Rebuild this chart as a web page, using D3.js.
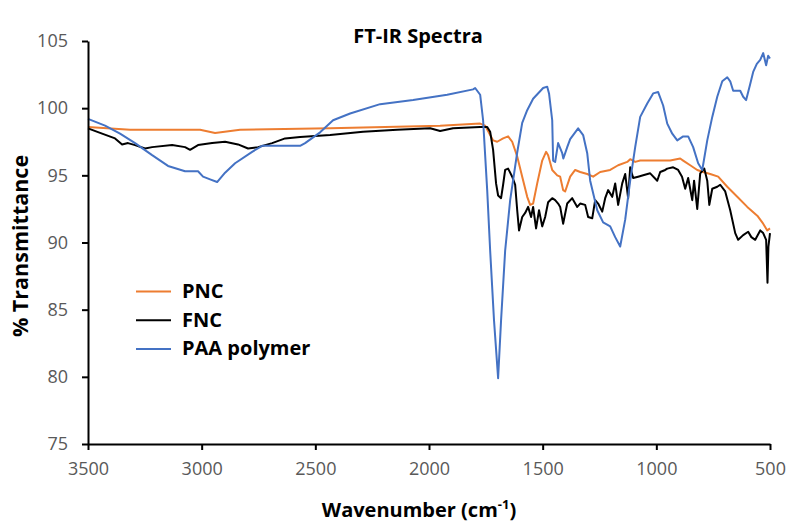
<!DOCTYPE html>
<html>
<head>
<meta charset="utf-8">
<script src="https://cdn.jsdelivr.net/npm/d3@7"></script>
<style>
  body { margin: 0; background: #fff; }
  svg { display: block; }
</style>
</head>
<body>
<svg id="chart" width="790" height="529"></svg>
<script>
// ---- data (wavenumber cm-1, % transmittance) ----
const seriesNames = ["PNC", "FNC", "PAA polymer"];
const seriesColors = ["#ED7D31", "#000000", "#4472C4"];
const xTicks = [3500, 3000, 2500, 2000, 1500, 1000, 500];
const yTicks = [75, 80, 85, 90, 95, 100, 105];

const pncWave = [3500,3315,3007,2941,2831,2435,1951,1775,1753,1731,1718,1700,1674,1652,1634,1612,1590,1568,1555,1542,1524,1502,1485,1476,1458,1436,1423,1410,1401,1379,1357,1335,1304,1278,1247,1203,1168,1128,1115,1093,1071,939,895,882,851,820,794,763,728,688,644,600,556,530,512,500];
const pncT    = [98.6,98.4,98.4,98.15,98.4,98.5,98.7,98.85,98.7,98.0,97.6,97.5,97.75,97.9,97.5,96.4,94.9,93.4,92.8,92.9,94.4,96.1,96.75,96.5,95.4,95.0,94.9,93.9,93.8,94.9,95.4,95.25,95.1,94.9,95.25,95.4,95.75,96.0,96.2,96.0,96.1,96.1,96.25,96.1,95.75,95.4,95.25,95.1,94.9,94.15,93.4,92.65,92.0,91.4,90.9,91.05];

const fncWave = [3500,3438,3381,3350,3324,3293,3249,3218,3130,3073,3051,3016,2954,2897,2840,2796,2752,2690,2633,2567,2435,2290,2140,1995,1951,1894,1775,1744,1731,1718,1705,1696,1683,1674,1665,1652,1634,1621,1612,1604,1590,1577,1564,1551,1542,1529,1516,1502,1489,1476,1458,1445,1432,1423,1410,1392,1370,1348,1335,1313,1300,1282,1269,1256,1238,1225,1212,1194,1181,1168,1150,1137,1124,1115,1102,1080,1058,1027,996,983,961,952,926,904,887,873,860,842,834,820,807,789,776,767,754,732,719,697,675,653,640,618,596,582,565,543,530,517,511,507,500];
const fncT    = [98.5,98.1,97.75,97.3,97.4,97.25,97.0,97.1,97.25,97.1,96.9,97.25,97.4,97.5,97.3,97.0,97.1,97.4,97.75,97.85,98.0,98.25,98.4,98.5,98.3,98.5,98.6,98.6,98.25,96.9,94.4,93.5,93.3,94.3,95.4,95.5,94.9,94.3,92.4,90.9,91.9,92.2,92.65,91.9,92.65,91.05,92.4,91.2,91.9,93.0,93.3,93.15,92.9,92.65,91.4,92.9,93.3,92.65,92.9,92.8,91.9,91.8,93.15,92.9,92.3,93.3,93.9,93.4,94.4,92.8,94.4,95.1,93.3,95.6,94.8,94.9,95.0,95.15,94.6,95.25,95.4,95.5,95.6,95.4,94.9,94.0,94.8,93.15,94.6,92.5,95.15,95.5,94.6,92.8,94.0,94.15,94.3,93.8,92.4,90.7,90.2,90.55,90.8,90.4,90.2,90.9,90.7,90.2,87.0,89.7,90.7];

const paaWave = [3500,3425,3359,3293,3218,3148,3073,3016,2994,2963,2932,2897,2853,2778,2734,2633,2567,2545,2479,2422,2347,2215,2070,1920,1806,1797,1775,1762,1744,1731,1714,1696,1683,1665,1643,1612,1590,1568,1542,1498,1480,1472,1458,1454,1445,1432,1414,1409,1392,1379,1344,1322,1304,1291,1260,1234,1203,1181,1159,1137,1115,1093,1071,1040,1014,992,970,952,930,908,882,860,838,816,798,776,754,732,710,688,675,662,631,618,605,587,574,558,543,530,517,508,500];
const paaT    = [99.2,98.7,98.1,97.4,96.5,95.7,95.3,95.3,94.9,94.7,94.5,95.2,95.9,96.75,97.2,97.2,97.2,97.4,98.2,99.1,99.6,100.3,100.6,101.0,101.4,101.5,101.0,99.1,93.9,89.4,84.2,79.9,84.2,89.4,93.15,96.7,98.9,99.85,100.7,101.5,101.6,101.1,99.1,96.1,96.0,97.4,96.65,96.25,97.1,97.7,98.5,98.0,96.65,94.6,92.4,91.5,91.2,90.4,89.7,91.7,94.6,97.1,99.35,100.35,101.1,101.2,100.2,98.85,98.1,97.6,97.9,97.9,97.1,95.9,95.4,97.6,99.35,100.85,102.0,102.3,102.0,101.3,101.3,100.85,100.6,101.8,102.7,103.3,103.6,104.1,103.2,103.9,103.7];

const waves = [pncWave, fncWave, paaWave];
const trans = [pncT, fncT, paaT];

// ---- layout ----
const svg = d3.select("#chart");
const x = d3.scaleLinear().domain([3500, 500]).range([88, 770]);
const y = d3.scaleLinear().domain([75, 105]).range([444, 41]);

const tickColor = "#595959";
const font = "'Open Sans', 'Liberation Sans', Arial, sans-serif";

// series lines
const line = d3.line().x(d => x(d[0])).y(d => y(d[1])).curve(d3.curveLinear);
seriesNames.forEach((name, i) => {
  const pts = waves[i].map((w, j) => [w, trans[i][j]]);
  svg.append("path")
    .datum(pts)
    .attr("fill", "none")
    .attr("stroke", seriesColors[i])
    .attr("stroke-width", 2)
    .attr("stroke-linejoin", "round")
    .attr("d", line);
});

// axes
const xAxis = d3.axisBottom(x).tickValues(xTicks).tickSize(6).tickSizeOuter(0).tickPadding(12).tickFormat(d3.format("d"));
const yAxis = d3.axisLeft(y).tickValues(yTicks).tickSize(6).tickSizeOuter(0).tickPadding(14).tickFormat(d3.format("d"));

const gx = svg.append("g").attr("transform", "translate(0,444)").call(xAxis);
const gy = svg.append("g").attr("transform", "translate(88,0)").call(yAxis);
[gx, gy].forEach(g => {
  g.select(".domain").attr("stroke", "#000").attr("stroke-width", 2);
  g.selectAll(".tick line").attr("stroke", "#000").attr("stroke-width", 2);
  g.selectAll(".tick text").attr("fill", tickColor).style("font-family", font).style("font-size", "18px");
});

// title
svg.append("text")
  .attr("x", 418).attr("y", 43)
  .attr("text-anchor", "middle")
  .style("font-family", font).style("font-weight", "bold").style("font-size", "20px")
  .text("FT-IR Spectra");

// x label
const xl = svg.append("text")
  .attr("x", 419).attr("y", 517)
  .attr("text-anchor", "middle")
  .style("font-family", font).style("font-weight", "bold").style("font-size", "20px");
xl.append("tspan").text("Wavenumber (cm");
xl.append("tspan").attr("dy", "-8").style("font-size", "13px").text("-1");
xl.append("tspan").attr("dy", "8").text(")");

// y label
svg.append("text")
  .attr("transform", "translate(28,246) rotate(-90)")
  .attr("text-anchor", "middle")
  .style("font-family", font).style("font-weight", "bold").style("font-size", "21.5px")
  .text("% Transmittance");

// legend
const legend = svg.append("g");
seriesNames.forEach((name, i) => {
  const ly = 291.5 + i * 28.7;
  legend.append("line")
    .attr("x1", 136).attr("x2", 171).attr("y1", ly).attr("y2", ly)
    .attr("stroke", seriesColors[i]).attr("stroke-width", 2);
  legend.append("text")
    .attr("x", 182).attr("y", ly + 6.5)
    .style("font-family", font).style("font-weight", "bold").style("font-size", "20px")
    .text(name);
});
</script>
</body>
</html>
